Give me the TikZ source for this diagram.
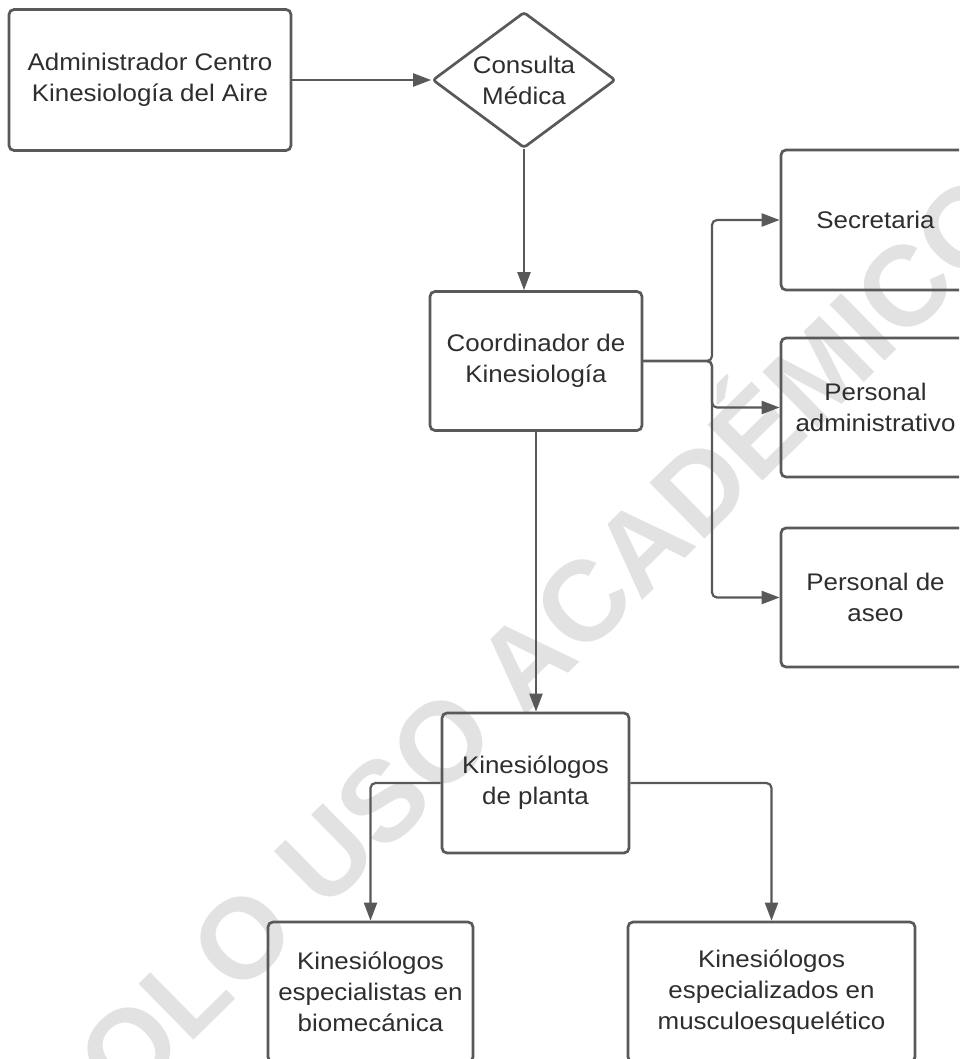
\documentclass[tikz,border=0pt]{standalone}
\usepackage{fontspec}
\setmainfont{Liberation Sans}[FakeStretch=1.08]
\newfontfamily\wmfont{Liberation Sans}
\usetikzlibrary{arrows.meta,shapes.geometric}
\definecolor{linegray}{HTML}{595959}
\definecolor{textgray}{HTML}{2E2E2E}
\definecolor{wmgray}{HTML}{E2E2E2}
\begin{document}
\begin{tikzpicture}[x=1pt,y=-1pt,
  box/.style={draw=linegray, line width=2.7pt, rounded corners=5pt, align=center,
    text=textgray, font=\fontsize{24}{31}\selectfont, inner sep=0pt},
  conn/.style={draw=linegray, line width=2.2pt, rounded corners=5pt,
    -{Triangle[length=18pt,width=13pt]}},
  wmstyle/.style={font=\wmfont\bfseries\fontsize{114}{114}\selectfont, text=wmgray,
    rotate=44.5, anchor=base, inner sep=0pt}
]
\useasboundingbox (0,0) rectangle (959,1059);
\clip (0,0) rectangle (959,1059);
\fill[white] (0,0) rectangle (959,1059);

% watermark
\node[wmstyle] (wm) at (548,693) {SOLO USO ACADÉMICO};

% nodes
\node[box, minimum width=282pt, minimum height=141pt] (adm) at (150,80)
  {Administrador Centro\\Kinesiología del Aire};
\node[box, diamond, aspect=1.35, minimum width=183pt, minimum height=136pt,
  rounded corners=3pt] (dia) at (524,80) {Consulta\\Médica};
\node[box, minimum width=212pt, minimum height=139pt] (coord) at (536,361)
  {Coordinador de\\Kinesiología};
\node[box, minimum width=189pt, minimum height=140pt] (sec) at (875.5,220)
  {Secretaria};
\node[box, minimum width=189pt, minimum height=139pt] (padm) at (875.5,407.5)
  {Personal\\administrativo};
\node[box, minimum width=189pt, minimum height=139pt] (aseo) at (875.5,597.5)
  {Personal de\\aseo};
\node[box, minimum width=187pt, minimum height=140pt] (planta) at (535.5,783)
  {Kinesiólogos\\de planta};
\node[box, minimum width=205pt, minimum height=140pt] (bio) at (370.5,992)
  {Kinesiólogos\\especialistas en\\biomecánica};
\node[box, minimum width=287pt, minimum height=140pt] (musc) at (771.5,992)
  {Kinesiólogos\\especializados en\\musculoesquelético};

\coordinate (j1) at (712,361);

% connectors
\draw[conn] (adm.east) -- (dia.west);
\draw[conn] (dia.south) -- (dia.south |- coord.north);
\draw[conn] (coord.east) -- (j1) |- (sec.west);
\draw[conn] (coord.east) -- (j1) |- (padm.west);
\draw[conn] (coord.east) -- (j1) |- (aseo.west);
\draw[conn] (coord.south) -- (coord.south |- planta.north);
\draw[conn] (planta.west) -| (bio.north);
\draw[conn] (planta.east) -| (musc.north);
\end{tikzpicture}
\end{document}
